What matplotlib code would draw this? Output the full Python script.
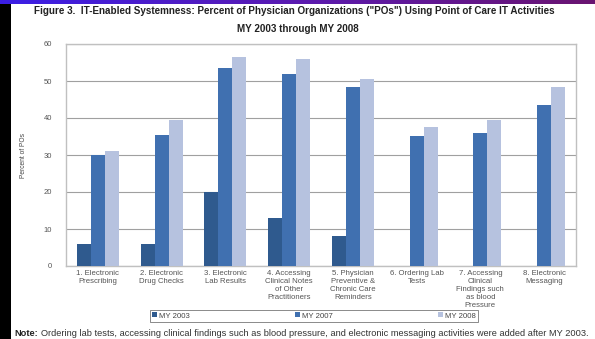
import numpy as np
import matplotlib.pyplot as plt
from matplotlib.colors import LinearSegmentedColormap

plt.rcParams['font.family'] = ['Liberation Sans', 'DejaVu Sans']

categories = ["1. Electronic\nPrescribing", "2. Electronic\nDrug Checks", "3. Electronic\nLab Results",
              "4. Accessing\nClinical Notes\nof Other\nPractitioners",
              "5. Physician\nPreventive &\nChronic Care\nReminders", "6. Ordering Lab\nTests",
              "7. Accessing\nClinical\nFindings such\nas blood\nPressure", "8. Electronic\nMessaging"]
my2003 = [6, 6, 20, 13, 8, np.nan, np.nan, np.nan]
my2007 = [30, 35.5, 53.5, 52, 48.3, 35.2, 36, 43.6]
my2008 = [31, 39.4, 56.5, 56, 50.5, 37.5, 39.4, 48.3]
series = ["MY 2003", "MY 2007", "MY 2008"]
colors = ["#2f5a8e", "#4070b0", "#b6c2df"]

W, H = 595, 339
fig = plt.figure(figsize=(W / 100, H / 100), dpi=100)
fig.patch.set_facecolor("white")

# black strip down the left edge and a blue-purple band across the top
strip = fig.add_axes([0, 0, 11 / W, 1])
strip.set_facecolor("black")
strip.set_xticks([]); strip.set_yticks([])
for s in strip.spines.values():
    s.set_visible(False)
band = fig.add_axes([0, 1 - 4 / H, 1, 4 / H])
cmap = LinearSegmentedColormap.from_list("band", ["#3b1fe6", "#5a1ab0", "#6a1470"])
band.imshow(np.linspace(0, 1, 256)[None, :], aspect="auto", cmap=cmap)
band.axis("off")

fig.text(0.5 - 3 / W, 1 - 11 / H, 'Figure 3.  IT-Enabled Systemness: Percent of Physician Organizations ("POs") Using Point of Care IT Activities',
         ha="center", va="center", fontsize=7.1, fontweight="bold", color="#222222")
fig.text(0.5, 1 - 29 / H, "MY 2003 through MY 2008", ha="center", va="center",
         fontsize=7.1, fontweight="bold", color="#222222")

ax = fig.add_axes([66 / W, (H - 266) / H, (576 - 66) / W, (266 - 44) / H])
x = np.arange(len(categories))
w = 0.22
for i, (vals, name, c) in enumerate(zip([my2003, my2007, my2008], series, colors)):
    ax.bar(x + (i - 1) * w, vals, width=w, color=c, label=name, zorder=3)

ax.set_xlim(-0.5, len(categories) - 0.5)
ax.set_ylim(0, 60)
ax.set_yticks(range(0, 61, 10))
ax.yaxis.grid(True, color="#a0a0a0", linewidth=0.8, zorder=0)
for s in ax.spines.values():
    s.set_color("#c0c0c0")
    s.set_linewidth(1.0)
ax.tick_params(axis="both", length=0, labelsize=5.5, colors="#555555", pad=3)
ax.tick_params(axis="y", pad=10)
ax.set_xticks(x)
ax.set_xticklabels(categories, fontsize=5.6, linespacing=1.2, va="top")
ax.set_ylabel("Percent of POs", fontsize=4.8, color="#444444", labelpad=12)

leg = fig.legend(loc="center", bbox_to_anchor=(314 / W, 1 - 316 / H), ncol=3, fontsize=5.6,
                 frameon=True, fancybox=False, edgecolor="#555555", handlelength=0.6,
                 handleheight=0.6, columnspacing=13.5, borderpad=0.3, handletextpad=0.3,
                 borderaxespad=0)
leg.get_frame().set_linewidth(0.6)
for t in leg.get_texts():
    t.set_color("#444444")

# footnote: bold lead-in followed by the regular text
note_y = 1 - 333 / H
lead = fig.text(14 / W, note_y, "Note:", ha="left", va="center", fontsize=6.7,
                fontweight="bold", color="#222222")
fig.canvas.draw()
bb = lead.get_window_extent()
fig.text((bb.x1 + 3) / W, note_y,
         "Ordering lab tests, accessing clinical findings such as blood pressure, and electronic messaging activities were added after MY 2003.",
         ha="left", va="center", fontsize=6.7, color="#333333")

fig.savefig("out.png", dpi=100)
